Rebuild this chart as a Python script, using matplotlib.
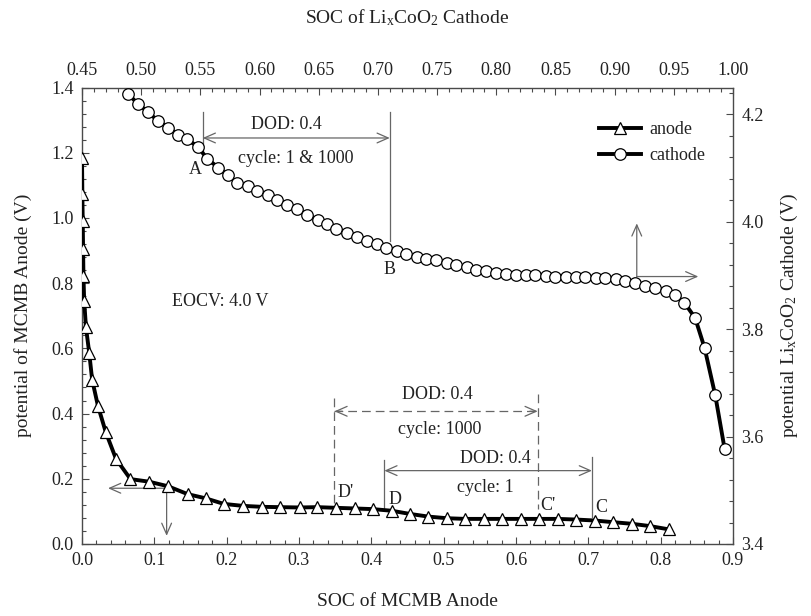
import matplotlib
matplotlib.use("Agg")
import matplotlib.pyplot as plt
from matplotlib.ticker import MultipleLocator
from matplotlib.lines import Line2D

plt.rcParams['font.family'] = ['Liberation Serif', 'DejaVu Serif']
plt.rcParams['mathtext.fontset'] = 'custom'
plt.rcParams['mathtext.rm'] = 'Liberation Serif'
plt.rcParams['mathtext.it'] = 'Liberation Serif:italic'

# ---------------- data ----------------
anode_soc = [0.000, 0.0005, 0.001, 0.0015, 0.002, 0.003, 0.0055, 0.010, 0.014, 0.022,
             0.033, 0.047, 0.067, 0.093, 0.119, 0.146, 0.171, 0.196, 0.222, 0.249,
             0.274, 0.301, 0.325, 0.351, 0.377, 0.402, 0.428, 0.454, 0.479, 0.505,
             0.530, 0.556, 0.581, 0.607, 0.632, 0.658, 0.683, 0.709, 0.734, 0.760,
             0.785, 0.811]
anode_v = [1.185, 1.073, 0.991, 0.906, 0.822, 0.746, 0.664, 0.586, 0.504, 0.424,
           0.342, 0.261, 0.199, 0.191, 0.177, 0.153, 0.140, 0.123, 0.117, 0.114,
           0.113, 0.112, 0.113, 0.111, 0.109, 0.107, 0.102, 0.092, 0.084, 0.079,
           0.077, 0.077, 0.077, 0.077, 0.077, 0.077, 0.075, 0.072, 0.067, 0.062,
           0.055, 0.045]

cathode_soc = [0.489, 0.497, 0.506, 0.514, 0.523, 0.531, 0.539, 0.548, 0.556, 0.565,
               0.573, 0.581, 0.590, 0.598, 0.607, 0.615, 0.623, 0.632, 0.640, 0.649,
               0.657, 0.665, 0.674, 0.682, 0.691, 0.699, 0.707, 0.716, 0.724, 0.733,
               0.741, 0.749, 0.758, 0.766, 0.775, 0.783, 0.791, 0.800, 0.808, 0.817,
               0.825, 0.833, 0.842, 0.850, 0.859, 0.867, 0.875, 0.884, 0.892, 0.901,
               0.909, 0.917, 0.926, 0.934, 0.943, 0.951, 0.959, 0.968, 0.976, 0.985,
               0.993]
cathode_v = [4.238, 4.220, 4.204, 4.188, 4.175, 4.162, 4.154, 4.139, 4.117, 4.101,
             4.087, 4.073, 4.066, 4.058, 4.050, 4.040, 4.032, 4.023, 4.013, 4.004,
             3.996, 3.987, 3.979, 3.971, 3.964, 3.958, 3.952, 3.946, 3.940, 3.934,
             3.930, 3.928, 3.924, 3.919, 3.915, 3.910, 3.908, 3.905, 3.903, 3.901,
             3.900, 3.900, 3.899, 3.898, 3.898, 3.897, 3.897, 3.895, 3.895, 3.894,
             3.890, 3.886, 3.881, 3.877, 3.872, 3.864, 3.849, 3.821, 3.765, 3.677,
             3.576]

bottom_ticks = [0.0, 0.1, 0.2, 0.3, 0.4, 0.5, 0.6, 0.7, 0.8, 0.9]
top_ticks = [0.45, 0.50, 0.55, 0.60, 0.65, 0.70, 0.75, 0.80, 0.85, 0.90, 0.95, 1.00]
left_ticks = [0.0, 0.2, 0.4, 0.6, 0.8, 1.0, 1.2, 1.4]
right_ticks = [3.4, 3.6, 3.8, 4.0, 4.2]

# ---------------- figure ----------------
fig = plt.figure(figsize=(8.11, 6.16), dpi=100)
pos = [82 / 811, 1 - 544 / 616, (733 - 82) / 811, (544 - 87.5) / 616]
ax = fig.add_axes(pos)
axc = fig.add_axes(pos, frameon=False)

spine_col = '#4a4a4a'
txt_col = '#222222'
ann_col = '#666666'
FS = 13

ax.set_xlim(0, 0.9)
ax.set_ylim(0, 1.4)
axc.set_xlim(0.45, 1.00)
axc.set_ylim(3.4, 4.25)

ax.set_xticks(bottom_ticks)
ax.set_xticklabels([f"{t:.1f}" for t in bottom_ticks])
ax.set_yticks(left_ticks)
ax.set_yticklabels([f"{t:.1f}" for t in left_ticks])
ax.xaxis.set_minor_locator(MultipleLocator(0.02))
ax.yaxis.set_minor_locator(MultipleLocator(0.04))

axc.xaxis.tick_top()
axc.yaxis.tick_right()
axc.xaxis.set_label_position('top')
axc.yaxis.set_label_position('right')
axc.set_xticks(top_ticks)
axc.set_xticklabels([f"{t:.2f}" for t in top_ticks])
axc.set_yticks(right_ticks)
axc.set_yticklabels([f"{t:.1f}" for t in right_ticks])
axc.xaxis.set_minor_locator(MultipleLocator(0.01))
axc.yaxis.set_minor_locator(MultipleLocator(0.04))

for a in (ax, axc):
    a.tick_params(which='both', direction='in', colors=spine_col, labelcolor=txt_col,
                  labelsize=FS, width=0.8)
    a.tick_params(which='major', length=5, pad=6)
    a.tick_params(which='minor', length=3)
for s in ax.spines.values():
    s.set_color(spine_col)
    s.set_linewidth(1.0)

ax.set_xlabel('SOC of MCMB Anode', fontsize=14, color=txt_col, labelpad=17)
ax.set_ylabel('potential of MCMB Anode (V)', fontsize=14, color=txt_col, labelpad=14)
axc.set_xlabel(r'SOC of Li$_\mathregular{x}$CoO$_\mathregular{2}$ Cathode', fontsize=14,
               color=txt_col, labelpad=28)
axc.set_ylabel(r'potential Li$_\mathregular{x}$CoO$_\mathregular{2}$ Cathode (V)',
               fontsize=14, color=txt_col, labelpad=11)

# ---------------- curves ----------------
ax.plot(anode_soc, anode_v, color='black', lw=2.8, marker='^', ms=9,
        mfc='white', mec='black', mew=0.9, zorder=5)
axc.plot(cathode_soc, cathode_v, color='black', lw=2.8, marker='o', ms=8.3,
         mfc='white', mec='black', mew=0.9, zorder=5)

# ---------------- annotations ----------------
arr = dict(arrowstyle='<->,head_length=0.5,head_width=0.22', color=ann_col, lw=0.9,
           mutation_scale=16, shrinkA=0, shrinkB=0)
one = dict(arrowstyle='->,head_length=0.5,head_width=0.22', color=ann_col, lw=0.9,
           mutation_scale=16, shrinkA=0, shrinkB=0)

# cathode DOD annotation (top/right coordinates)
axc.plot([0.552, 0.552], [4.204, 4.132], color=ann_col, lw=0.9)
axc.plot([0.710, 0.710], [4.204, 3.965], color=ann_col, lw=0.9)
axc.annotate('', xy=(0.552, 4.156), xytext=(0.710, 4.156), arrowprops=arr)
axc.text(0.623, 4.182, 'DOD: 0.4', fontsize=FS, color=txt_col, ha='center', va='center')
axc.text(0.631, 4.117, 'cycle: 1 & 1000', fontsize=FS, color=txt_col, ha='center', va='center')
axc.text(0.546, 4.098, 'A', fontsize=FS, color=txt_col, ha='center', va='center')
axc.text(0.710, 3.912, 'B', fontsize=FS, color=txt_col, ha='center', va='center')

# cathode axis arrows
axc.annotate('', xy=(0.9187, 3.997), xytext=(0.9187, 3.898), arrowprops=one)
axc.annotate('', xy=(0.9707, 3.898), xytext=(0.9187, 3.898), arrowprops=one)

# anode axis arrows
ax.annotate('', xy=(0.036, 0.171), xytext=(0.117, 0.171), arrowprops=one)
ax.annotate('', xy=(0.117, 0.025), xytext=(0.117, 0.171), arrowprops=one)

# cycle 1000 (dashed)
dash = (0, (7, 4))
ax.plot([0.349, 0.349], [0.447, 0.117], color=ann_col, lw=0.9, ls=dash)
ax.plot([0.630, 0.630], [0.460, 0.107], color=ann_col, lw=0.9, ls=dash)
ax.plot([0.349, 0.630], [0.407, 0.407], color=ann_col, lw=0.9, ls=dash)
ax.annotate('', xy=(0.349, 0.407), xytext=(0.360, 0.407), arrowprops=one)
ax.annotate('', xy=(0.630, 0.407), xytext=(0.619, 0.407), arrowprops=one)
ax.text(0.491, 0.458, 'DOD: 0.4', fontsize=FS, color=txt_col, ha='center', va='center')
ax.text(0.494, 0.350, 'cycle: 1000', fontsize=FS, color=txt_col, ha='center', va='center')

# cycle 1 (solid)
ax.plot([0.418, 0.418], [0.258, 0.107], color=ann_col, lw=0.9)
ax.plot([0.705, 0.705], [0.266, 0.083], color=ann_col, lw=0.9)
ax.annotate('', xy=(0.418, 0.225), xytext=(0.705, 0.225), arrowprops=arr)
ax.text(0.572, 0.262, 'DOD: 0.4', fontsize=FS, color=txt_col, ha='center', va='center')
ax.text(0.558, 0.174, 'cycle: 1', fontsize=FS, color=txt_col, ha='center', va='center')

ax.text(0.353, 0.158, "D'", fontsize=FS, color=txt_col, ha='left', va='center')
ax.text(0.424, 0.138, 'D', fontsize=FS, color=txt_col, ha='left', va='center')
ax.text(0.634, 0.117, "C'", fontsize=FS, color=txt_col, ha='left', va='center')
ax.text(0.710, 0.112, 'C', fontsize=FS, color=txt_col, ha='left', va='center')

ax.text(0.191, 0.743, 'EOCV: 4.0 V', fontsize=FS, color=txt_col, ha='center', va='center')

# legend
h1 = Line2D([], [], color='black', lw=2.8, marker='^', ms=9, mfc='white', mec='black', mew=0.9)
h2 = Line2D([], [], color='black', lw=2.8, marker='o', ms=8.3, mfc='white', mec='black', mew=0.9)
leg = axc.legend([h1, h2], ['anode', 'cathode'], loc='upper left',
                 bbox_to_anchor=((599 - 82) / 651, (544 - 121) / 456.5),
                 frameon=False, fontsize=FS, handlelength=2.3, handletextpad=0.5,
                 labelspacing=0.5, borderaxespad=0, borderpad=0)
for t in leg.get_texts():
    t.set_color(txt_col)

fig.savefig('out.png', dpi=100)
